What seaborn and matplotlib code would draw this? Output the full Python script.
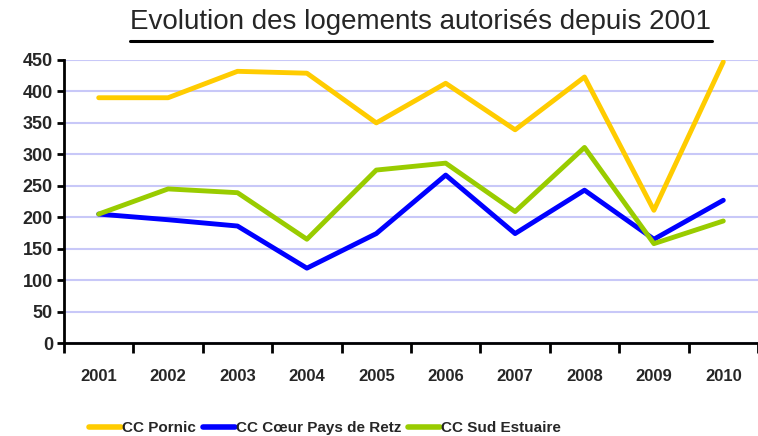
import seaborn as sns
import pandas as pd
import matplotlib.pyplot as plt
from matplotlib.lines import Line2D

years = ["2001", "2002", "2003", "2004", "2005", "2006", "2007", "2008", "2009", "2010"]
pornic = [390, 390, 432, 429, 350, 413, 339, 423, 211, 447]
coeur_retz = [205, 196, 186, 119, 174, 267, 174, 243, 165, 227]
sud_estuaire = [205, 245, 239, 165, 275, 286, 209, 311, 158, 194]
series_names = ["CC Pornic", "CC Cœur Pays de Retz", "CC Sud Estuaire"]
colors = ["#FFCC00", "#0000FF", "#99CC00"]

# long format for seaborn
rows = []
for name, vals in zip(series_names, [pornic, coeur_retz, sud_estuaire]):
    for y, v in zip(years, vals):
        rows.append({"annee": y, "logements": v, "serie": name})
df = pd.DataFrame(rows)

sns.set_style("white")
plt.rcParams["font.family"] = ["Liberation Sans", "DejaVu Sans"]

fig = plt.figure(figsize=(7.58, 4.36), dpi=100)
ax = fig.add_axes([64 / 758, 93 / 436, 694 / 758, 283 / 436])

sns.lineplot(data=df, x="annee", y="logements", hue="serie",
             palette=colors, linewidth=3.5, ax=ax, legend=False)

ax.set_ylim(0, 450)
ax.set_xlim(-0.47, 9.39)
ax.set_yticks(range(0, 451, 50))
ax.yaxis.grid(True, color="#C8C8F8", linewidth=1.5)
ax.set_axisbelow(True)
ax.set_xlabel("")
ax.set_ylabel("")

# ticks between categories, labels centered under each year
ax.set_xticks([i + 0.5 for i in range(-1, 10)], minor=False)
ax.set_xticklabels([])
ax.set_xticks(range(len(years)), minor=True)
ax.set_xticklabels(years, minor=True)
ax.tick_params(axis="x", which="major", direction="out", length=7, width=2, color="black", bottom=True)
ax.tick_params(axis="x", which="minor", length=0, pad=19, labelsize=12)
ax.tick_params(axis="y", direction="out", length=5, width=2, color="black", left=True, labelsize=13, pad=3)
for lab in ax.get_xticklabels(minor=True) + ax.get_yticklabels():
    lab.set_fontweight("bold")

for side in ["top", "right"]:
    ax.spines[side].set_visible(False)
for side in ["left", "bottom"]:
    ax.spines[side].set_color("black")
    ax.spines[side].set_linewidth(2)

fig.text(421 / 758, 1 - 22 / 436, "Evolution des logements autorisés depuis 2001",
         ha="center", va="center", fontsize=20)
fig.add_artist(Line2D([130 / 758, 712 / 758], [1 - 41 / 436, 1 - 41 / 436],
                      color="black", linewidth=2.2))

handles = [Line2D([], [], color=c, linewidth=4) for c in colors]
leg = fig.legend(handles, series_names, loc="center", bbox_to_anchor=(325 / 758, 1 - 428 / 436),
                 ncol=3, frameon=False, handlelength=2.1, handletextpad=0.05, columnspacing=0.45,
                 prop={"weight": "bold", "size": 11})

fig.savefig("out.png", dpi=100)
